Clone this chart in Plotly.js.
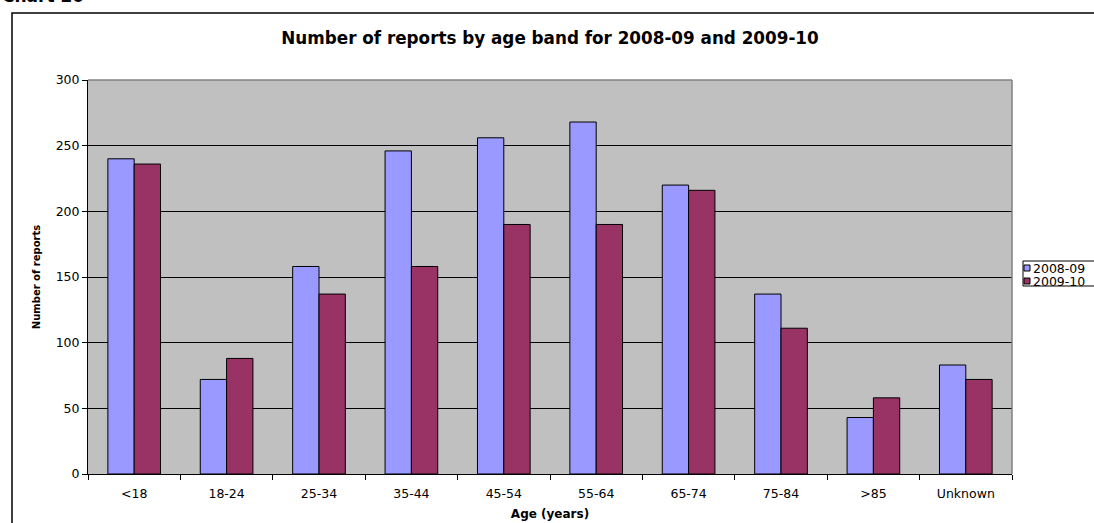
<!DOCTYPE html>
<html>
<head>
<meta charset="utf-8">
<script src="https://cdn.plot.ly/plotly-3.0.1.min.js"></script>
<style>
  html, body { margin: 0; padding: 0; background: #ffffff; }
  #chart { width: 1094px; height: 523px; }
</style>
</head>
<body>
<div id="chart"></div>
<script>
const categories = ["<18", "18-24", "25-34", "35-44", "45-54", "55-64", "65-74", "75-84", ">85", "Unknown"];
const values2008 = [240, 72, 158, 246, 256, 268, 220, 137, 43, 83];
const values2009 = [236, 88, 137, 158, 190, 190, 216, 111, 58, 72];
const seriesNames = ["2008-09", "2009-10"];
const seriesColors = ["#9999FF", "#993366"];
const yTicks = [0, 50, 100, 150, 200, 250, 300];

const W = 1094, H = 523;
const L = 88, R = 82, T = 80, B = 49;
const pw = W - L - R, ph = H - T - B;
const px = x => (x - L) / pw;
const py = y => (H - B - y) / ph;

const font = "DejaVu Sans, Liberation Sans, Arial, sans-serif";

const traces = [values2008, values2009].map((vals, i) => ({
  type: "bar", x: categories, y: vals, name: seriesNames[i],
  marker: { color: seriesColors[i], line: { color: "#000000", width: 1 } }
}));

// manual legend (box, swatches, labels) placed at the right edge like the reference
const legendShapes = [
  { type: "rect", xref: "paper", yref: "paper",
    x0: px(1023), x1: px(1120), y0: py(286), y1: py(261),
    line: { color: "#000000", width: 1 }, fillcolor: "#ffffff", layer: "above" }
];
const legendAnn = [];
seriesNames.forEach((name, i) => {
  const cy = 268 + i * 13;
  legendShapes.push({ type: "rect", xref: "paper", yref: "paper",
    x0: px(1024), x1: px(1030), y0: py(cy + 3), y1: py(cy - 3),
    line: { color: "#000000", width: 1 }, fillcolor: seriesColors[i], layer: "above" });
  legendAnn.push({ text: name, xref: "paper", yref: "paper",
    x: px(1031), y: py(cy), xanchor: "left", yanchor: "middle", showarrow: false,
    font: { family: font, size: 12.5, color: "#000000" } });
});

const layout = {
  width: W, height: H,
  margin: { l: L, r: R, t: T, b: B, pad: 0 },
  paper_bgcolor: "#ffffff",
  plot_bgcolor: "#C0C0C0",
  font: { family: font, color: "#000000", size: 12 },
  bargap: 0.43, bargroupgap: 0,
  barmode: "group",
  showlegend: false,
  title: {
    text: "<b>Number of reports by age band for 2008-09 and 2009-10</b>",
    font: { family: font, size: 16.8, color: "#000000" },
    x: 0.5, xref: "paper", xanchor: "center",
    y: 1 - 38 / H, yref: "container", yanchor: "middle"
  },
  xaxis: {
    type: "category",
    tickson: "boundaries",
    ticks: "outside", ticklen: 5, tickcolor: "#000000", tickwidth: 1,
    ticklabelstandoff: 8,
    showline: true, linecolor: "#000000", linewidth: 1,
    showgrid: false, zeroline: false,
    tickfont: { family: font, size: 12.5, color: "#000000" },
    title: { text: "<b>Age (years)</b>", font: { family: font, size: 12, color: "#000000" }, standoff: 9 },
    fixedrange: true
  },
  yaxis: {
    range: [0, 300],
    tickvals: yTicks,
    ticktext: yTicks.map(String),
    ticks: "outside", ticklen: 5, tickcolor: "#000000", tickwidth: 1,
    showline: true, linecolor: "#000000", linewidth: 1,
    showgrid: true, gridcolor: "#000000", gridwidth: 1,
    zeroline: false,
    tickfont: { family: font, size: 12.5, color: "#000000" },
    title: { text: "<b>Number of reports</b>", font: { family: font, size: 10, color: "#000000" }, standoff: 13 },
    fixedrange: true
  },
  shapes: [
    // outer chart frame
    { type: "rect", xref: "paper", yref: "paper",
      x0: px(12), x1: px(1120), y0: py(540), y1: py(13),
      line: { color: "#000000", width: 1.5 }, fillcolor: "rgba(0,0,0,0)", layer: "below" },
    // plot area border (top and right)
    { type: "line", xref: "paper", yref: "paper", x0: 0, x1: 1, y0: 1, y1: 1,
      line: { color: "#808080", width: 1.5 }, layer: "above" },
    { type: "line", xref: "paper", yref: "paper", x0: 1, x1: 1, y0: 0, y1: 1,
      line: { color: "#808080", width: 1.5 }, layer: "above" }
  ].concat(legendShapes),
  annotations: [
    { text: "<b>Chart 20</b>", xref: "paper", yref: "paper",
      x: px(0), y: py(-4), xanchor: "left", yanchor: "middle",
      showarrow: false, font: { family: font, size: 17, color: "#000000" } }
  ].concat(legendAnn)
};

Plotly.newPlot("chart", traces, layout, { displayModeBar: false, staticPlot: true });
</script>
</body>
</html>
